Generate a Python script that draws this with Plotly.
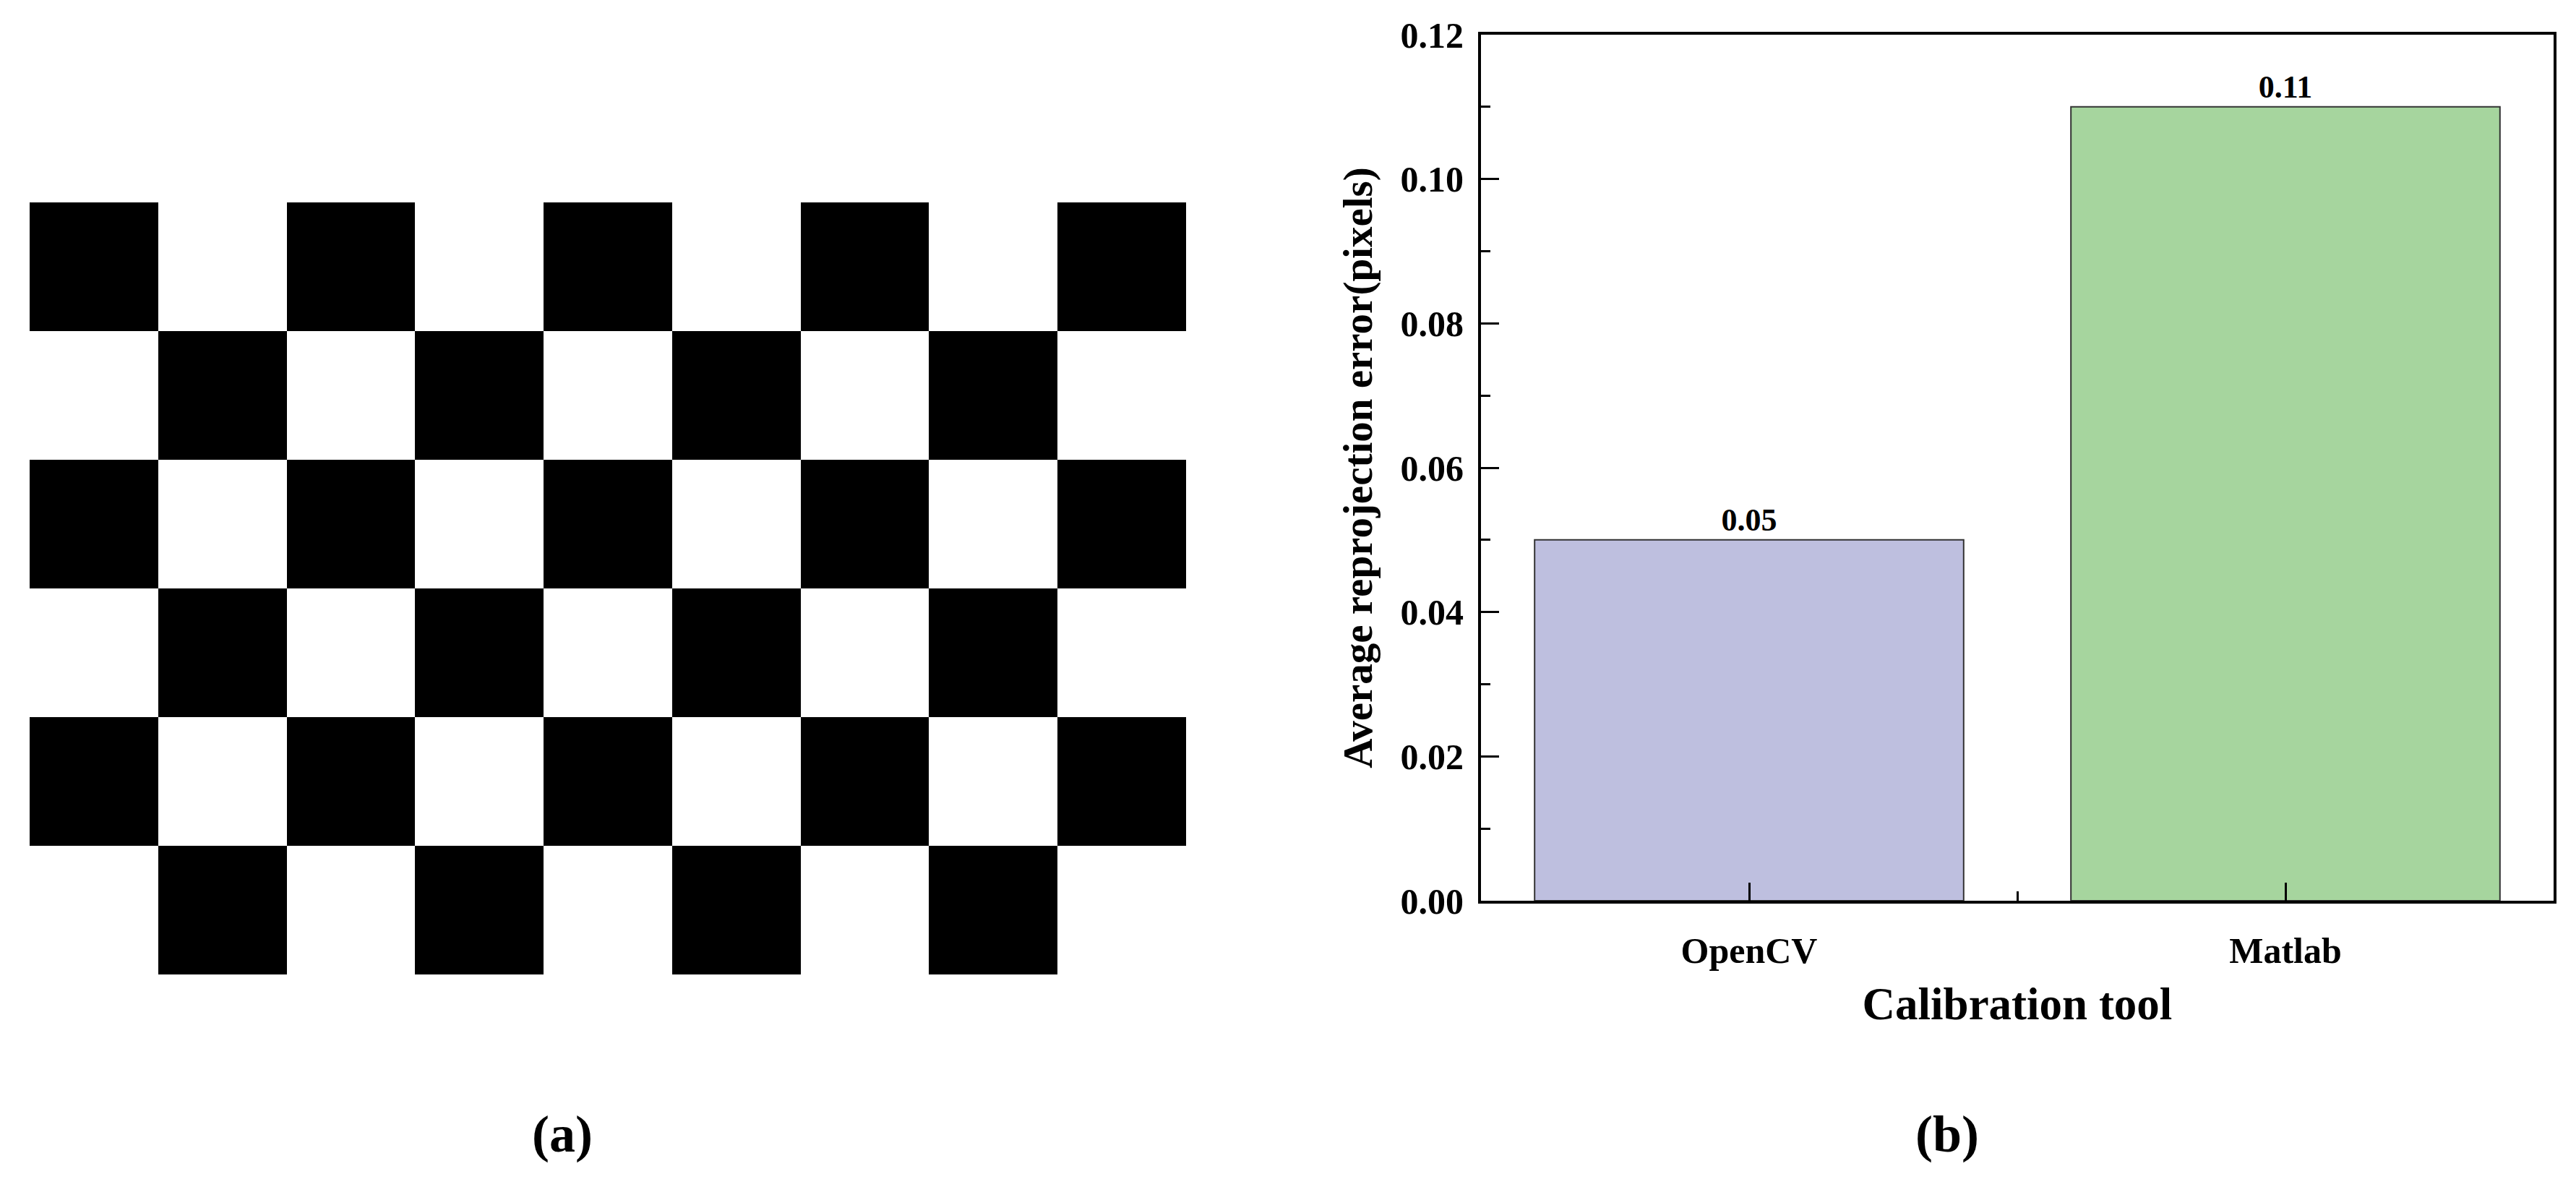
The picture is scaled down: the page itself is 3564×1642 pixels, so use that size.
import plotly.graph_objects as go

# (a) calibration board pattern, 1 = black square
board = [
    [1, 0, 1, 0, 1, 0, 1, 0, 1],
    [0, 1, 0, 1, 0, 1, 0, 1, 0],
    [1, 0, 1, 0, 1, 0, 1, 0, 1],
    [0, 1, 0, 1, 0, 1, 0, 1, 0],
    [1, 0, 1, 0, 1, 0, 1, 0, 1],
    [0, 1, 0, 1, 0, 1, 0, 1, 0],
]

# (b) reprojection error by calibration tool
tools = ["OpenCV", "Matlab"]
errors = [0.05, 0.11]
bar_colors = ["#BEBFDF", "#A6D59E"]

FONT = "Liberation Serif"
W, H = 3564, 1642
OFF = 8  # default body margin of the html page
FW, FH = W - 2 * OFF, H - 2 * OFF


def fx(px):
    return (px - OFF) / FW


def fy(py):
    return 1 - (py - OFF) / FH


fig = go.Figure()

fig.add_trace(go.Heatmap(
    z=board, xaxis="x2", yaxis="y2",
    colorscale=[[0, "white"], [1, "black"]],
    showscale=False, hoverinfo="skip",
))

xpos = list(range(len(tools)))
fig.add_trace(go.Bar(
    x=xpos, y=errors, width=0.8,
    marker=dict(color=bar_colors, line=dict(color="#333333", width=2)),
    text=[f"{v:.2f}" for v in errors], textposition="outside",
    textfont=dict(family=FONT, size=44, color="black", weight="bold"),
    cliponaxis=False,
))

axis_common = dict(
    showline=True, linecolor="black", linewidth=4, mirror=True,
    showgrid=False, zeroline=False, automargin=False,
    ticks="inside", ticklen=25, tickwidth=3, tickcolor="black",
    tickfont=dict(family=FONT, size=50, color="black", weight="bold"),
)

fig.update_layout(
    width=FW, height=FH,
    margin=dict(l=0, r=0, t=0, b=0),
    paper_bgcolor="white", plot_bgcolor="white",
    showlegend=False,
    font=dict(family=FONT, color="black"),
    xaxis=dict(
        domain=[fx(2049), fx(3533)], range=[-0.5, 1.5],
        tickvals=xpos, ticktext=tools, ticklabelstandoff=22,
        minor=dict(tickvals=[0.5], ticks="inside", ticklen=13, tickwidth=3, tickcolor="black"),
        title=dict(text="Calibration tool", standoff=25,
                   font=dict(family=FONT, size=63, color="black", weight="bold")),
        **axis_common,
    ),
    yaxis=dict(
        domain=[fy(1246), fy(48)], range=[0, 0.12],
        dtick=0.02, tickformat=".2f", ticklabelstandoff=10,
        minor=dict(dtick=0.01, ticks="inside", ticklen=13, tickwidth=3, tickcolor="black"),
        title=dict(text="Average reprojection error(pixels)", standoff=22,
                   font=dict(family=FONT, size=57, color="black", weight="bold")),
        **axis_common,
    ),
    xaxis2=dict(domain=[fx(41), fx(1641)], range=[-0.5, 8.5], visible=False),
    yaxis2=dict(domain=[fy(1348), fy(280)], range=[5.5, -0.5], visible=False),
    annotations=[
        dict(text="(a)", x=fx(778), y=fy(1569), xref="paper", yref="paper",
             xanchor="center", yanchor="middle", showarrow=False,
             font=dict(family=FONT, size=72, color="black", weight="bold")),
        dict(text="(b)", x=fx(2694), y=fy(1569), xref="paper", yref="paper",
             xanchor="center", yanchor="middle", showarrow=False,
             font=dict(family=FONT, size=72, color="black", weight="bold")),
    ],
)

fig.write_html("out.html")
